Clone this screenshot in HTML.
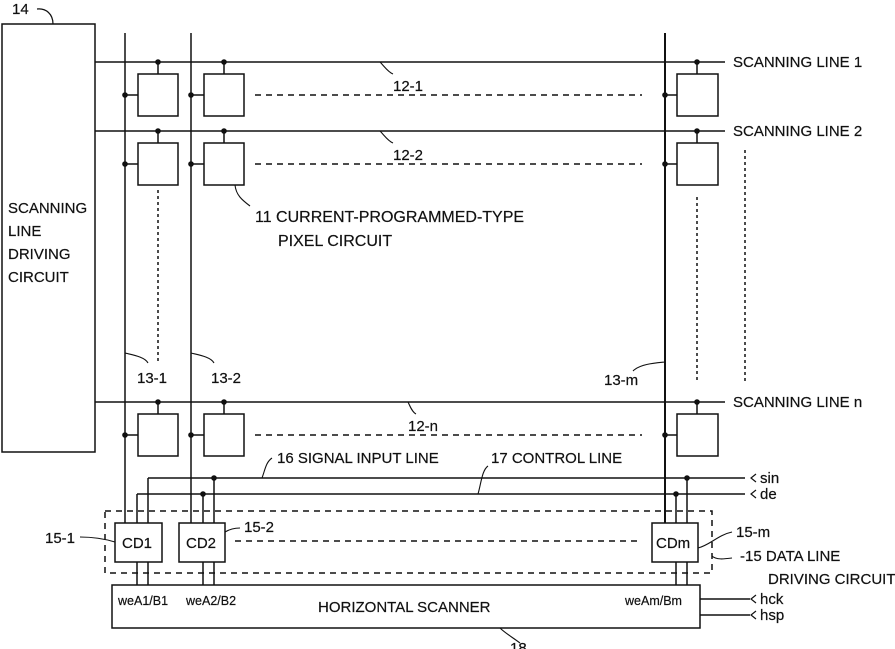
<!DOCTYPE html>
<html><head><meta charset="utf-8"><style>
html,body{margin:0;padding:0;background:#fff;}
svg{display:block;}
text{font-family:"Liberation Sans",sans-serif;font-size:15px;fill:#111;stroke:#111;stroke-width:0.2px;}
.s{font-size:12.5px;}
.b{font-size:16px;}
</style></head><body>
<svg width="895" height="649" viewBox="0 0 895 649" xmlns="http://www.w3.org/2000/svg">
<g stroke="#111" stroke-width="1.5" fill="none">
<rect x="2" y="24" width="93" height="428"/>
<path d="M53 24 C53 14 46 8 37 9" stroke-width="1.2"/>
<line x1="125" y1="33" x2="125" y2="523"/>
<line x1="191" y1="33" x2="191" y2="523"/>
<line x1="665" y1="33" x2="665" y2="523" stroke-width="2"/>
<line x1="95" y1="62" x2="725" y2="62"/>
<line x1="95" y1="131" x2="725" y2="131"/>
<line x1="95" y1="402" x2="725" y2="402"/>
<g>
<rect x="138" y="74" width="40" height="42"/><rect x="204" y="74" width="40" height="42"/><rect x="677" y="74" width="41" height="42"/>
<rect x="138" y="143" width="40" height="42"/><rect x="204" y="143" width="40" height="42"/><rect x="677" y="143" width="41" height="42"/>
<rect x="138" y="414" width="40" height="42"/><rect x="204" y="414" width="40" height="42"/><rect x="677" y="414" width="41" height="42"/>
</g>
<path d="M158 62V74M224 62V74M697 62V74M158 131V143M224 131V143M697 131V143M158 402V414M224 402V414M697 402V414"/>
<path d="M125 95H138M191 95H204M665 95H677M125 164H138M191 164H204M665 164H677M125 435H138M191 435H204M665 435H677"/>
<g stroke-dasharray="6,5">
<line x1="255" y1="95" x2="642" y2="95"/>
<line x1="255" y1="164" x2="642" y2="164"/>
<line x1="255" y1="435" x2="642" y2="435"/>
<line x1="158" y1="190" x2="158" y2="362" stroke-dasharray="3,3"/>
<line x1="697" y1="197" x2="697" y2="382" stroke-dasharray="3,3"/>
<line x1="745" y1="150" x2="745" y2="382" stroke-dasharray="3,3"/>
<line x1="235" y1="541" x2="640" y2="541"/>
<rect x="105" y="511" width="607" height="62"/>
</g>
<line x1="148" y1="478" x2="745" y2="478"/>
<line x1="137" y1="494" x2="745" y2="494"/>
<path d="M148 478V523M137 494V523M214 478V523M203 494V523M687 478V523M676 494V523"/>
<path d="M137 562V585M148 562V585M203 562V585M214 562V585M676 562V585M687 562V585"/>
<rect x="115" y="523" width="47" height="39"/>
<rect x="179" y="523" width="46" height="39"/>
<rect x="652" y="523" width="46" height="39"/>
<rect x="112" y="585" width="588" height="43"/>
<line x1="700" y1="599" x2="750" y2="599"/>
<line x1="700" y1="615" x2="750" y2="615"/>
<path d="M756 474L751 478L756 482M756 490L751 494L756 498M756 595L751 599L756 603M756 611L751 615L756 619" stroke-width="1.2"/>
<g stroke-width="1.1">
<path d="M380 62C384 66 388 72 393 74"/>
<path d="M380 131C384 135 388 141 393 143"/>
<path d="M408 402C410 406 412 412 416 414"/>
<path d="M235 185C236 195 242 200 250 206"/>
<path d="M125 353C133 355 145 357 148 363"/>
<path d="M191 353C199 355 211 357 214 363"/>
<path d="M665 362C655 363 640 364 633 371"/>
<path d="M262 478C265 470 266 462 272 458"/>
<path d="M478 494C481 484 482 470 488 466"/>
<path d="M80 537C95 537 105 539 115 542"/>
<path d="M225 532C230 529 235 528 240 528"/>
<path d="M698 548C710 545 718 535 732 532"/>
<path d="M712 556C716 560 724 559 732 558"/>
<path d="M500 628C505 633 512 637 520 643"/>
</g>
</g>
<g fill="#111">
<circle cx="158" cy="62" r="2.8"/><circle cx="224" cy="62" r="2.8"/><circle cx="697" cy="62" r="2.8"/>
<circle cx="158" cy="131" r="2.8"/><circle cx="224" cy="131" r="2.8"/><circle cx="697" cy="131" r="2.8"/>
<circle cx="158" cy="402" r="2.8"/><circle cx="224" cy="402" r="2.8"/><circle cx="697" cy="402" r="2.8"/>
<circle cx="125" cy="95" r="2.8"/><circle cx="191" cy="95" r="2.8"/><circle cx="665" cy="95" r="2.8"/>
<circle cx="125" cy="164" r="2.8"/><circle cx="191" cy="164" r="2.8"/><circle cx="665" cy="164" r="2.8"/>
<circle cx="125" cy="435" r="2.8"/><circle cx="191" cy="435" r="2.8"/><circle cx="665" cy="435" r="2.8"/>
<circle cx="214" cy="478" r="2.8"/><circle cx="203" cy="494" r="2.8"/><circle cx="687" cy="478" r="2.8"/><circle cx="676" cy="494" r="2.8"/>
</g>
<text x="12" y="14">14</text>
<text x="8" y="213">SCANNING</text>
<text x="8" y="236">LINE</text>
<text x="8" y="259">DRIVING</text>
<text x="8" y="282">CIRCUIT</text>
<text x="393" y="91">12-1</text>
<text x="393" y="160">12-2</text>
<text x="408" y="431">12-n</text>
<text class="b" x="255" y="222">11  CURRENT-PROGRAMMED-TYPE</text>
<text class="b" x="278" y="246">PIXEL CIRCUIT</text>
<text x="137" y="383">13-1</text>
<text x="211" y="383">13-2</text>
<text x="604" y="385">13-m</text>
<text x="733" y="67">SCANNING LINE 1</text>
<text x="733" y="136">SCANNING LINE 2</text>
<text x="733" y="407">SCANNING LINE n</text>
<text x="277" y="463">16  SIGNAL INPUT LINE</text>
<text x="491" y="463">17  CONTROL LINE</text>
<text x="760" y="483">sin</text>
<text x="760" y="499">de</text>
<text x="45" y="543">15-1</text>
<text x="244" y="532">15-2</text>
<text x="736" y="537">15-m</text>
<text x="740" y="561">-15  DATA  LINE</text>
<text x="768" y="584">DRIVING CIRCUIT</text>
<text x="122" y="548">CD1</text>
<text x="186" y="548">CD2</text>
<text x="656" y="548">CDm</text>
<text class="s" x="118" y="605">weA1/B1</text>
<text class="s" x="186" y="605">weA2/B2</text>
<text class="s" x="625" y="605">weAm/Bm</text>
<text x="318" y="612">HORIZONTAL SCANNER</text>
<text x="760" y="604">hck</text>
<text x="760" y="620">hsp</text>
<text x="510" y="653">18</text>
</svg>
</body></html>
